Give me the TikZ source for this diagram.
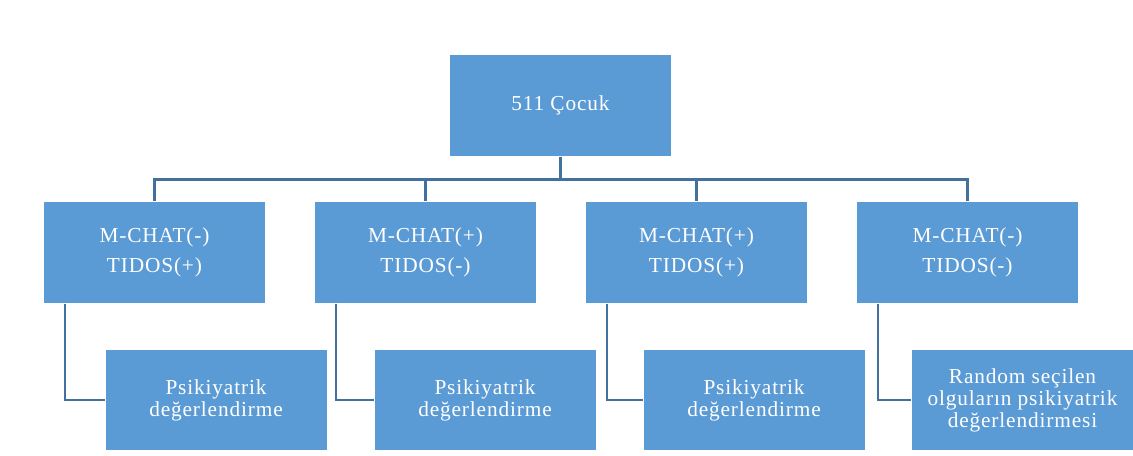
\documentclass[tikz,border=0pt]{standalone}
\usepackage{fontspec}
\setmainfont[LetterSpace=4]{Liberation Serif}
\usepackage{tikz}
\usetikzlibrary{positioning, calc}

\definecolor{boxblue}{HTML}{5B9BD5}
\definecolor{lineblue}{HTML}{41719C}

\tikzset{
  box/.style={draw=white, line width=0.6pt, fill=boxblue, text=white,
    minimum width=167pt, minimum height=76pt, inner sep=0pt, align=center,
    font=\fontsize{16}{22.5}\selectfont},
  subbox/.style={box, minimum width=166.5pt,
    font=\fontsize{16}{16.5}\selectfont},
  link/.style={draw=lineblue, line width=1.9pt}
}

\begin{document}
\begin{tikzpicture}[x=0.75pt, y=-0.75pt]
\useasboundingbox (0,0) rectangle (1133,455);

% Top node
\node (top) [box] at (560.5,105.5) {511 Çocuk};

% Screening groups
\node (M1) [box] at (154.5,252.5) {M-CHAT(-)\\TIDOS(+)};
\node (M2) [box] at (425.5,252.5) {M-CHAT(+)\\TIDOS(-)};
\node (M3) [box] at (696.5,252.5) {M-CHAT(+)\\TIDOS(+)};
\node (M4) [box] at (967.5,252.5) {M-CHAT(-)\\TIDOS(-)};

% Evaluation nodes
\node (P1) [subbox] at (216,400) {Psikiyatrik\\değerlendirme};
\node (P2) [subbox] at (485,400) {Psikiyatrik\\değerlendirme};
\node (P3) [subbox] at (754,400) {Psikiyatrik\\değerlendirme};
\node (P4) [subbox] at (1022.5,400) {Random seçilen\\olguların psikiyatrik\\değerlendirmesi};

% Connectors from the top node
\draw[link] (top.south) -- ++(0,23) -| (M1.north);
\draw[link] (top.south) -- ++(0,23) -| (M2.north);
\draw[link] (top.south) -- ++(0,23) -| (M3.north);
\draw[link] (top.south) -- ++(0,23) -| (M4.north);

% Connectors to the evaluations
\draw[link] ([xshift=16.5pt]M1.south west) |- (P1.west);
\draw[link] ([xshift=16.5pt]M2.south west) |- (P2.west);
\draw[link] ([xshift=16.5pt]M3.south west) |- (P3.west);
\draw[link] ([xshift=16.5pt]M4.south west) |- (P4.west);
\end{tikzpicture}
\end{document}
